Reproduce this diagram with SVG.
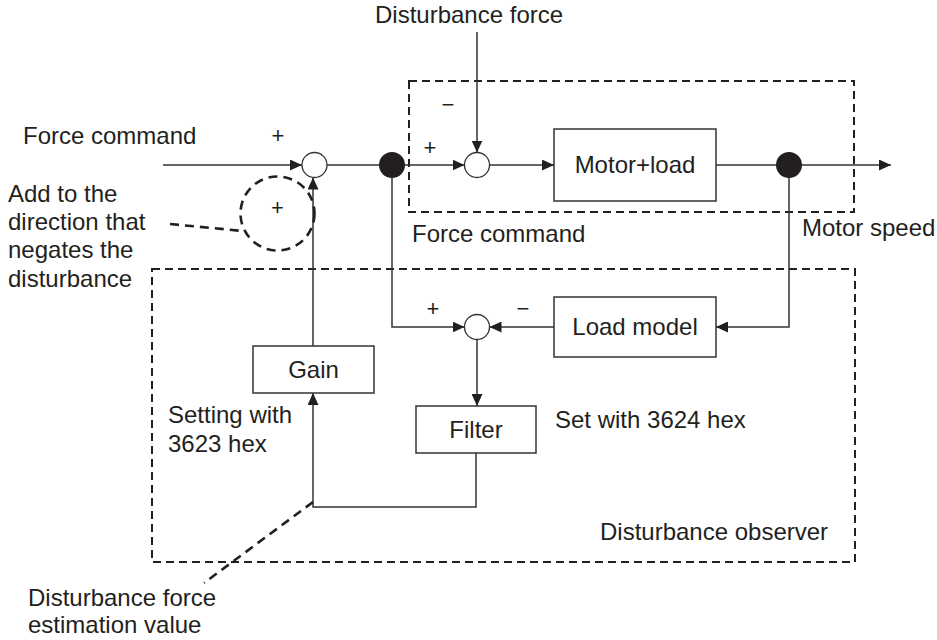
<svg xmlns="http://www.w3.org/2000/svg" width="937" height="640" viewBox="0 0 937 640">
<defs>
<marker id="arr" markerUnits="userSpaceOnUse" markerWidth="13" markerHeight="11" refX="12" refY="5.5" orient="auto">
<path d="M0,0 L12,5.5 L0,11 z" fill="#231f20"/>
</marker>
<style>
text{font-family:"Liberation Sans",Arial,sans-serif;font-size:24px;fill:#231f20}
.m{text-anchor:middle}
.s{font-size:22px}
.ln{fill:none;stroke:#333;stroke-width:1.5}
.box{fill:#fff;stroke:#333;stroke-width:1.5}
.sum{fill:#fff;stroke:#333;stroke-width:1.3}
.dot{fill:#231f20}
.dash{fill:none;stroke:#231f20;stroke-width:2;stroke-dasharray:8 5}
.anno{fill:none;stroke:#231f20;stroke-width:2.6;stroke-dasharray:9 6}
</style>
</defs>
<rect width="937" height="640" fill="#fff"/>

<g id="plant-frame"><rect class="dash" x="409" y="81" width="445" height="131"/></g>
<g id="observer-frame"><rect class="dash" x="152" y="269" width="703" height="293"/></g>

<g id="connectors">
<path class="ln" d="M163,165 H302" marker-end="url(#arr)"/>
<path class="ln" d="M327,165 H392 H464.5" marker-end="url(#arr)"/>
<path class="ln" d="M477,32 V152.5" marker-end="url(#arr)"/>
<path class="ln" d="M489.5,165 H554" marker-end="url(#arr)"/>
<path class="ln" d="M716,165 H891" marker-end="url(#arr)"/>
<path class="ln" d="M789,165 V327 H716" marker-end="url(#arr)"/>
<path class="ln" d="M554,327 H489.5" marker-end="url(#arr)"/>
<path class="ln" d="M392,165 V327 H464.5" marker-end="url(#arr)"/>
<path class="ln" d="M477,339.5 V406" marker-end="url(#arr)"/>
<path class="ln" d="M476,453 V507 H313 V393" marker-end="url(#arr)"/>
<path class="ln" d="M313,346 V177.5" marker-end="url(#arr)"/>
<path class="anno" d="M170,224 L243,231"/>
<path class="anno" d="M313,502 L204,583"/>
</g>

<g id="sum1"><circle class="sum" cx="314.5" cy="165" r="12.5"/></g>
<g id="sum2"><circle class="sum" cx="477" cy="165" r="12.5"/></g>
<g id="sum3"><circle class="sum" cx="477" cy="327" r="12.5"/></g>
<g id="branch1"><circle class="dot" cx="392" cy="165" r="13"/></g>
<g id="branch2"><circle class="dot" cx="789" cy="165" r="13"/></g>
<g id="motor-load"><rect class="box" x="554" y="129" width="162" height="72"/><text class="m" x="635" y="173">Motor+load</text></g>
<g id="load-model"><rect class="box" x="554" y="297" width="162" height="60"/><text class="m" x="635" y="335">Load model</text></g>
<g id="gain"><rect class="box" x="253" y="346" width="121" height="47"/><text class="m" x="313.5" y="378">Gain</text></g>
<g id="filter"><rect class="box" x="416" y="406" width="120" height="47"/><text class="m" x="476" y="438">Filter</text></g>
<g id="add-direction"><circle class="anno" cx="277.5" cy="213.5" r="37"/><text class="m s" x="277.5" y="215">+</text></g>

<g id="labels">
<text x="23" y="144">Force command</text>
<text class="m s" x="278" y="143">+</text>
<text x="8" y="202">Add to the</text>
<text x="8" y="230">direction that</text>
<text x="8" y="258">negates the</text>
<text x="8" y="287">disturbance</text>
<text x="375" y="23">Disturbance force</text>
<text class="m s" x="448" y="112">−</text>
<text class="m s" x="430" y="155">+</text>
<text x="412" y="242">Force command</text>
<text x="802" y="236">Motor speed</text>
<text class="m s" x="433" y="316">+</text>
<text class="m s" x="523" y="316">−</text>
<text x="555" y="428">Set with 3624 hex</text>
<text x="168" y="423">Setting with</text>
<text x="168" y="452">3623 hex</text>
<text x="600" y="540">Disturbance observer</text>
<text x="28" y="606">Disturbance force</text>
<text x="28" y="633">estimation value</text>
</g>
</svg>
